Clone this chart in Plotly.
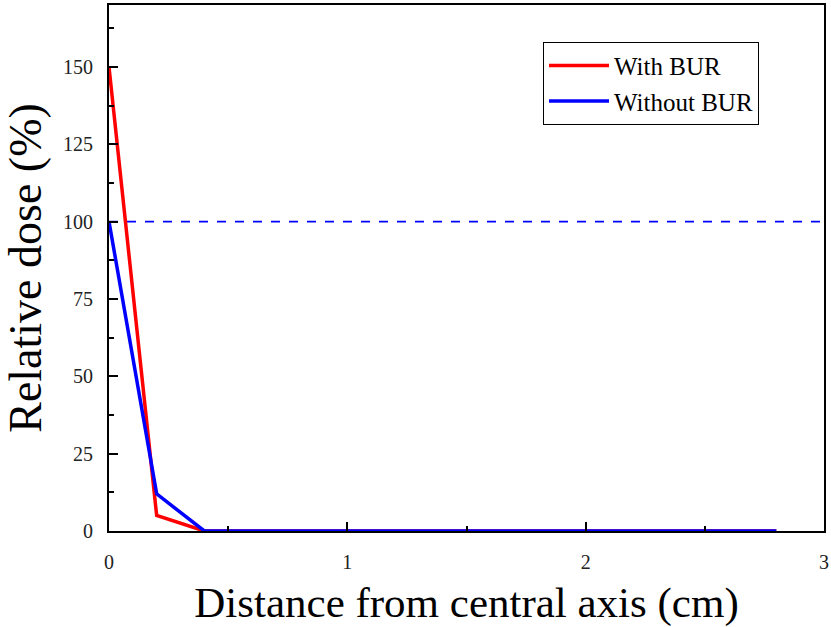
import plotly.graph_objects as go

x_vals = [0, 0.2, 0.4, 0.6, 0.8, 1.0, 1.2, 1.4, 1.6, 1.8, 2.0, 2.2, 2.4, 2.6, 2.8]
with_bur = [150, 5, 0, 0, 0, 0, 0, 0, 0, 0, 0, 0, 0, 0, 0]
without_bur = [100, 12, 0, 0, 0, 0, 0, 0, 0, 0, 0, 0, 0, 0, 0]
ref_x = [0, 3]
ref_y = [100, 100]

FONT = "Liberation Serif"

fig = go.Figure()
fig.add_trace(go.Scatter(x=ref_x, y=ref_y, mode="lines",
                         line=dict(color="#0000ff", width=1.6, dash="dash"),
                         showlegend=False, hoverinfo="skip"))
fig.add_trace(go.Scatter(x=x_vals, y=with_bur, mode="lines", name="With BUR",
                         line=dict(color="#ff0000", width=3.5)))
fig.add_trace(go.Scatter(x=x_vals, y=without_bur, mode="lines", name="Without BUR",
                         line=dict(color="#0000ff", width=3.5)))

fig.update_layout(
    width=831, height=627,
    margin=dict(l=109, r=7, t=5, b=96),
    paper_bgcolor="white", plot_bgcolor="white",
    font=dict(family=FONT, color="black"),
    legend=dict(x=0.607, y=0.93, xanchor="left", yanchor="top",
                bordercolor="black", borderwidth=1, bgcolor="white",
                font=dict(family=FONT, size=25, color="black"),
                itemwidth=60, tracegroupgap=0),
    showlegend=True,
)
fig.update_xaxes(
    range=[0, 3], tickvals=[0, 1, 2, 3], ticktext=["0", "1", "2", "3"],
    ticks="inside", ticklen=9, tickwidth=2, tickcolor="black",
    minor=dict(ticks="inside", ticklen=5, tickwidth=2, tickcolor="black", dtick=0.5),
    showline=True, linecolor="black", linewidth=2, mirror=True,
    showgrid=False, zeroline=False, automargin=False,
    tickfont=dict(family=FONT, size=20, color="#222"),
    ticklabelstandoff=12,
    title=dict(text="Distance from central axis (cm)", font=dict(family=FONT, size=43), standoff=18),
)
fig.update_yaxes(
    range=[0, 170], tickvals=[0, 25, 50, 75, 100, 125, 150],
    ticks="inside", ticklen=9, tickwidth=2, tickcolor="black",
    minor=dict(ticks="inside", ticklen=5, tickwidth=2, tickcolor="black", dtick=12.5),
    showline=True, linecolor="black", linewidth=2, mirror=True,
    showgrid=False, zeroline=False, automargin=False,
    tickfont=dict(family=FONT, size=20, color="#222"),
    ticklabelstandoff=10,
    title=dict(text="Relative dose (%)", font=dict(family=FONT, size=46), standoff=8),
)

fig.write_html("out.html", config={"displayModeBar": False},
               post_script="document.body.style.margin='0';")
